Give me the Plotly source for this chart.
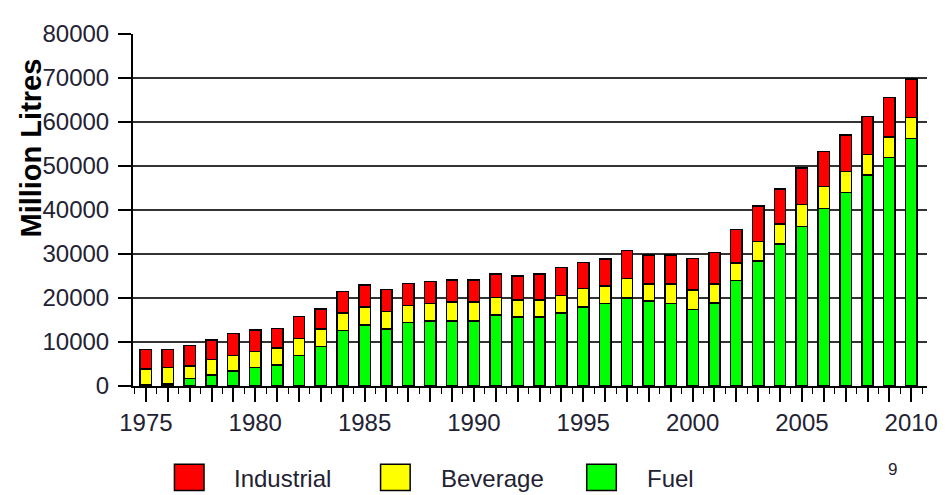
import plotly.graph_objects as go

# Data (million litres)
years = list(range(1975, 2011))
fuel = [300, 400, 1700, 2500, 3400, 4250, 4750, 6900, 9000, 12600,
        13900, 13000, 14400, 14800, 14800, 14800, 16100, 15700, 15700, 16600,
        17900, 18800, 20000, 19300, 18750, 17400, 18900, 24000, 28400, 32300,
        36300, 40300, 44000, 47900, 51900, 56300]
beverage = [3600, 3850, 2900, 3500, 3500, 3550, 3850, 3900, 4000, 4000,
            4000, 3900, 3900, 4000, 4300, 4300, 4000, 3800, 3800, 4000,
            4300, 3900, 4400, 3850, 4400, 4400, 4250, 3900, 4400, 4500,
            4950, 5000, 4700, 4700, 4700, 4700]
industrial = [4400, 4050, 4600, 4500, 5000, 4900, 4500, 5000, 4500, 4900,
              5000, 5000, 5000, 4900, 5000, 5000, 5300, 5500, 5900, 6300,
              5900, 6200, 6400, 6650, 6650, 7200, 7150, 7700, 8100, 8000,
              8350, 8000, 8400, 8600, 9000, 8800]
series_names = ["Fuel", "Beverage", "Industrial"]
y_ticks = [0, 10000, 20000, 30000, 40000, 50000, 60000, 70000, 80000]

COLORS = {"Fuel": "#00FF00", "Beverage": "#FFFF00", "Industrial": "#FF0000"}
FONT = "Liberation Sans, Arial, sans-serif"
TEXT = "#222233"

# page body has an 8px margin, so the figure sits at (8, 8)
OFF = 8
W, H = 942, 487
L, R, T, B = 125, 12, 14, 109


def px_x(x):
    # page pixel -> paper x
    return (x - OFF - L) / (W - L - R)


def px_y(y):
    # page pixel -> paper y
    return (H - B - (y - OFF)) / (H - T - B)


fig = go.Figure()
for name, vals in zip(series_names, [fuel, beverage, industrial]):
    fig.add_trace(go.Bar(
        x=years, y=vals, name=name, width=0.52,
        marker=dict(color=COLORS[name], line=dict(color="black", width=1.5)),
        showlegend=False,
    ))

fig.update_layout(
    width=W, height=H,
    barmode="stack",
    paper_bgcolor="white", plot_bgcolor="white",
    font=dict(family=FONT, color=TEXT),
    margin=dict(l=L, r=R, t=T, b=B),
)

fig.update_xaxes(
    range=[1974.41, 2010.72],
    tickvals=years,
    ticktext=[str(y) if y % 5 == 0 else "" for y in years],
    ticks="outside", ticklen=14, tickwidth=1.5, tickcolor="black",
    ticklabelstandoff=0,
    minor=dict(ticks="outside", ticklen=6, tickwidth=1, tickcolor="black",
               tick0=1974.5, dtick=1),
    showgrid=False, showline=True, linecolor="black", linewidth=2,
    tickfont=dict(size=24, color=TEXT),
)
fig.update_yaxes(
    range=[0, 80000],
    tickvals=y_ticks,
    tickformat="d",
    ticks="outside", ticklen=13, tickwidth=1.5, tickcolor="black",
    ticklabelstandoff=4,
    showgrid=True, gridcolor="#333333", gridwidth=1.5,
    zeroline=False, showline=True, linecolor="black", linewidth=2,
    tickfont=dict(size=24, color=TEXT),
)

# y-axis title
fig.add_annotation(
    x=px_x(30), y=px_y(140), xref="paper", yref="paper",
    text="<b>Million Litres</b>", textangle=-90, showarrow=False,
    font=dict(size=29, color="black"), xanchor="center", yanchor="middle",
)

# custom legend along the bottom
legend_items = [("Industrial", 175, 233), ("Beverage", 384, 443), ("Fuel", 593, 652)]
for name, sq_x, txt_x in legend_items:
    fig.add_shape(
        type="rect", xref="paper", yref="paper",
        x0=px_x(sq_x), x1=px_x(sq_x + 30), y0=px_y(467), y1=px_y(494),
        fillcolor=COLORS[name], line=dict(color="black", width=1.5),
    )
    fig.add_annotation(
        x=px_x(txt_x), y=px_y(482), xref="paper", yref="paper",
        text=name, showarrow=False, xanchor="left", yanchor="middle",
        font=dict(size=24, color=TEXT),
    )

# page number
fig.add_annotation(
    x=px_x(903), y=px_y(472), xref="paper", yref="paper",
    text="9", showarrow=False, xanchor="center", yanchor="middle",
    font=dict(size=17, color=TEXT),
)

fig.write_html("out.html")
